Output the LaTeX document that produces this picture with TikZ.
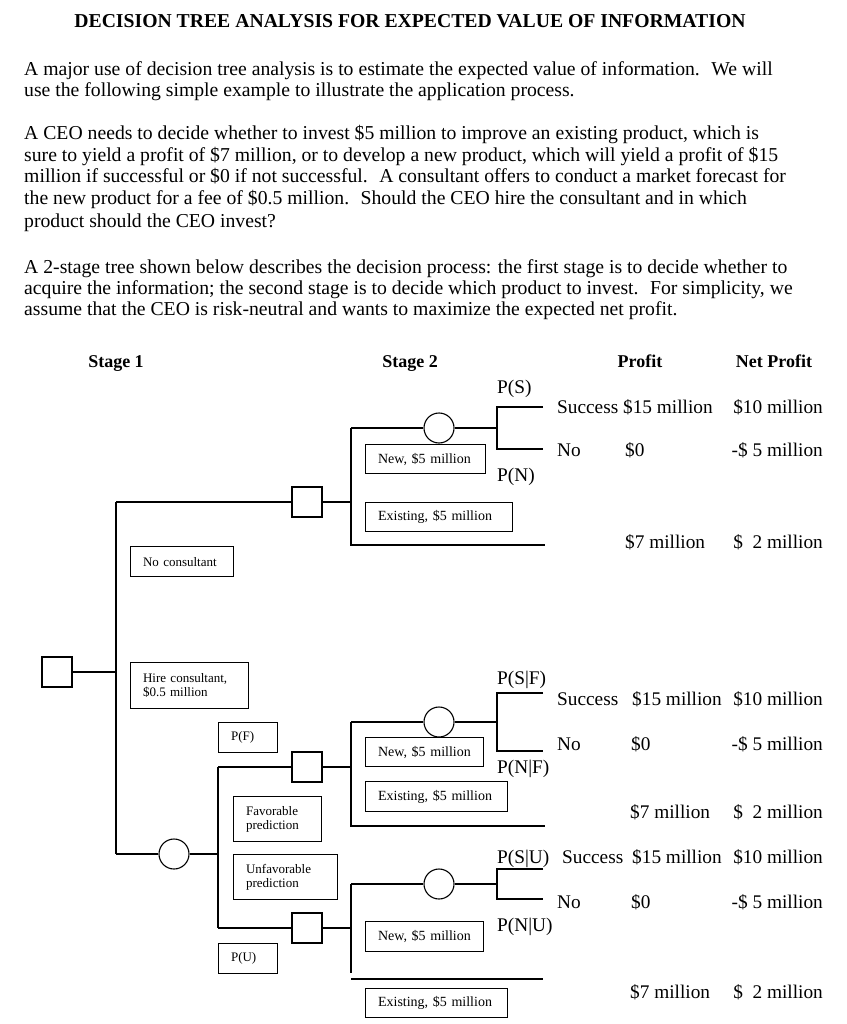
\documentclass[tikz,border=0pt]{standalone}
\usepackage{fontspec}
\setmainfont{Liberation Serif}
\begin{document}
\begin{tikzpicture}[x=1pt,y=-1pt,
  tl/.style={line width=1.1pt},
  body/.style={anchor=base west, inner sep=0pt, font=\fontsize{19.7}{21}\selectfont},
  hdr/.style={anchor=base, inner sep=0pt, font=\fontsize{18}{21}\selectfont\bfseries},
  val/.style={anchor=base west, inner sep=0pt, font=\fontsize{19.3}{22}\selectfont},
  valr/.style={anchor=base east, inner sep=0pt, font=\fontsize{19.3}{22}\selectfont},
  dsq/.style={draw, line width=1.1pt, minimum size=30pt, inner sep=0pt},
  chc/.style={draw, circle, line width=1.1pt, minimum size=30pt, inner sep=0pt},
  lbox/.style={draw, line width=1.1pt, anchor=north west, inner xsep=12.5pt, inner ysep=0pt, align=left, font=\fontsize{13}{14}\selectfont},
  nbox/.style={lbox, font=\fontsize{14}{15}\selectfont}
]
\useasboundingbox (0,0) rectangle (846,1024);

% title and text
\node[anchor=base, inner sep=0pt, font=\fontsize{19.7}{22}\selectfont\bfseries] (title) at (410,28) {DECISION TREE ANALYSIS FOR EXPECTED VALUE OF INFORMATION};
\node[body] (p1a) at (24,76) {A major use of decision tree analysis is to estimate the expected value of information.~ We will};
\node[body] (p1b) at (24,97) {use the following simple example to illustrate the application process.};
\node[body] (p2a) at (24,140) {A CEO needs to decide whether to invest \$5 million to improve an existing product, which is};
\node[body] (p2b) at (24,162) {sure to yield a profit of \$7 million, or to develop a new product, which will yield a profit of \$15};
\node[body] (p2c) at (24,183) {million if successful or \$0 if not successful.~ A consultant offers to conduct a market forecast for};
\node[body] (p2d) at (24,205) {the new product for a fee of \$0.5 million.~ Should the CEO hire the consultant and in which};
\node[body] (p2e) at (24,227) {product should the CEO invest?};
\node[body] (p3a) at (24,273) {A 2-stage tree shown below describes the decision process: the first stage is to decide whether to};
\node[body] (p3b) at (24,294) {acquire the information; the second stage is to decide which product to invest.~ For simplicity, we};
\node[body] (p3c) at (24,315) {assume that the CEO is risk-neutral and wants to maximize the expected net profit.};

% headers
\node[hdr] (h1) at (116,367) {Stage 1};
\node[hdr] (h2) at (410,367) {Stage 2};
\node[hdr] (h3) at (640,367) {Profit};
\node[hdr] (h4) at (774,367) {Net Profit};

% decision / chance nodes
\node[dsq] (d0) at (57,672) {};
\node[dsq] (d1) at (307,502) {};
\node[dsq] (d2) at (307,767) {};
\node[dsq] (d3) at (307,928) {};
\node[chc] (c0) at (174,854) {};
\node[chc] (c1) at (439,428) {};
\node[chc] (c2) at (439,722) {};
\node[chc] (c3) at (439,884) {};

% coordinates
\coordinate (r0) at (116,672);
\coordinate (r1) at (116,502);
\coordinate (r2) at (116,854);
\coordinate (a1) at (351,502);
\coordinate (a1t) at (351,428);
\coordinate (a1b) at (351,545);
\coordinate (e1) at (545,545);
\coordinate (b1) at (497,428);
\coordinate (s1) at (497,407);
\coordinate (n1) at (497,449);
\coordinate (s1e) at (543,407);
\coordinate (n1e) at (543,449);

\coordinate (k0) at (218,854);
\coordinate (k2) at (218,767);
\coordinate (k3) at (218,928);
\coordinate (a2) at (351,767);
\coordinate (a2t) at (351,722);
\coordinate (a2b) at (351,826);
\coordinate (e2) at (545,826);
\coordinate (b2) at (497,722);
\coordinate (s2) at (497,693);
\coordinate (n2) at (497,751);
\coordinate (s2e) at (543,693);
\coordinate (n2e) at (543,751);

\coordinate (a3) at (351,928);
\coordinate (a3t) at (351,884);
\coordinate (a3b) at (351,973);
\coordinate (e3s) at (351,979);
\coordinate (e3) at (543,979);
\coordinate (b3) at (497,884);
\coordinate (s3) at (497,869);
\coordinate (n3) at (497,899);
\coordinate (s3e) at (543,869);
\coordinate (n3e) at (543,899);

% connectors
\draw[tl] (d0.east) -- (r0);
\draw[tl] (r1) -- (r2);
\draw[tl] (r1) -- (d1.west);
\draw[tl] (d1.east) -- (a1);
\draw[tl] (a1t) -- (a1b) -- (e1);
\draw[tl] (a1t) -- (c1.west);
\draw[tl] (c1.east) -- (b1);
\draw[tl] (s1e) -- (s1) -- (n1) -- (n1e);

\draw[tl] (r2) -- (c0.west);
\draw[tl] (c0.east) -- (k0);
\draw[tl] (k2) -- (k3);
\draw[tl] (k2) -- (d2.west);
\draw[tl] (d2.east) -- (a2);
\draw[tl] (a2t) -- (a2b) -- (e2);
\draw[tl] (a2t) -- (c2.west);
\draw[tl] (c2.east) -- (b2);
\draw[tl] (s2e) -- (s2) -- (n2) -- (n2e);

\draw[tl] (k3) -- (d3.west);
\draw[tl] (d3.east) -- (a3);
\draw[tl] (a3t) -- (a3b);
\draw[tl] (e3s) -- (e3);
\draw[tl] (a3t) -- (c3.west);
\draw[tl] (c3.east) -- (b3);
\draw[tl] (s3e) -- (s3) -- (n3) -- (n3e);

% boxes
\node[lbox, text width=78pt, minimum height=30pt] (nocons) at (130,546) {No consultant};
\node[lbox, text width=93pt, minimum height=46pt] (hire) at (130,662) {Hire consultant,\\\$0.5 million};
\node[lbox, text width=34pt, minimum height=30pt] (pf) at (218,722) {P(F)};
\node[lbox, text width=63pt, minimum height=45pt] (fav) at (233,796) {Favorable\\prediction};
\node[lbox, text width=79pt, minimum height=45pt] (unfav) at (233,854) {Unfavorable\\prediction};
\node[lbox, text width=34pt, minimum height=30pt] (pu) at (218,943) {P(U)};

\node[nbox, text width=95pt, minimum height=29pt] (new1) at (365,444) {New, \$5 million};
\node[nbox, text width=122pt, minimum height=29pt] (ex1) at (365,502) {Existing, \$5 million};
\node[nbox, text width=93pt, minimum height=29pt] (new2) at (365,737) {New, \$5 million};
\node[nbox, text width=117pt, minimum height=30pt] (ex2) at (365,781) {Existing, \$5 million};
\node[nbox, text width=93pt, minimum height=30pt] (new3) at (365,921) {New, \$5 million};
\node[nbox, text width=117pt, minimum height=29pt] (ex3) at (365,988) {Existing, \$5 million};

% probability labels
\node[val] (ps) at (497,393) {P(S)};
\node[val] (pn) at (497,481) {P(N)};
\node[val] (psf) at (497,684) {P(S|F)};
\node[val] (pnf) at (497,773) {P(N|F)};
\node[val] (psu) at (497,863) {P(S|U)};
\node[val] (pnu) at (497,931) {P(N|U)};

% outcome labels, top
\node[val] (suc1) at (557,413) {Success \$15 million};
\node[valr] (net1) at (823,413) {\$10 million};
\node[val] (no1) at (557,456) {No};
\node[val] (z1) at (625,456) {\$0};
\node[valr] (neg1) at (823,456) {-\$ 5 million};
\node[val] (sv1) at (625,548) {\$7 million};
\node[valr] (sn1) at (823,548) {\$\hspace{0.5em}2 million};

% middle
\node[val] (suc2) at (557,705) {Success};
\node[val] (pr2) at (632,705) {\$15 million};
\node[valr] (net2) at (823,705) {\$10 million};
\node[val] (no2) at (557,750) {No};
\node[val] (z2) at (631,750) {\$0};
\node[valr] (neg2) at (823,750) {-\$ 5 million};
\node[val] (sv2) at (630,818) {\$7 million};
\node[valr] (sn2) at (823,818) {\$\hspace{0.5em}2 million};

% lower
\node[val] (suc3) at (562,863) {Success};
\node[val] (pr3) at (632,863) {\$15 million};
\node[valr] (net3) at (823,863) {\$10 million};
\node[val] (no3) at (557,908) {No};
\node[val] (z3) at (631,908) {\$0};
\node[valr] (neg3) at (823,908) {-\$ 5 million};
\node[val] (sv3) at (630,998) {\$7 million};
\node[valr] (sn3) at (823,998) {\$\hspace{0.5em}2 million};
\end{tikzpicture}
\end{document}
